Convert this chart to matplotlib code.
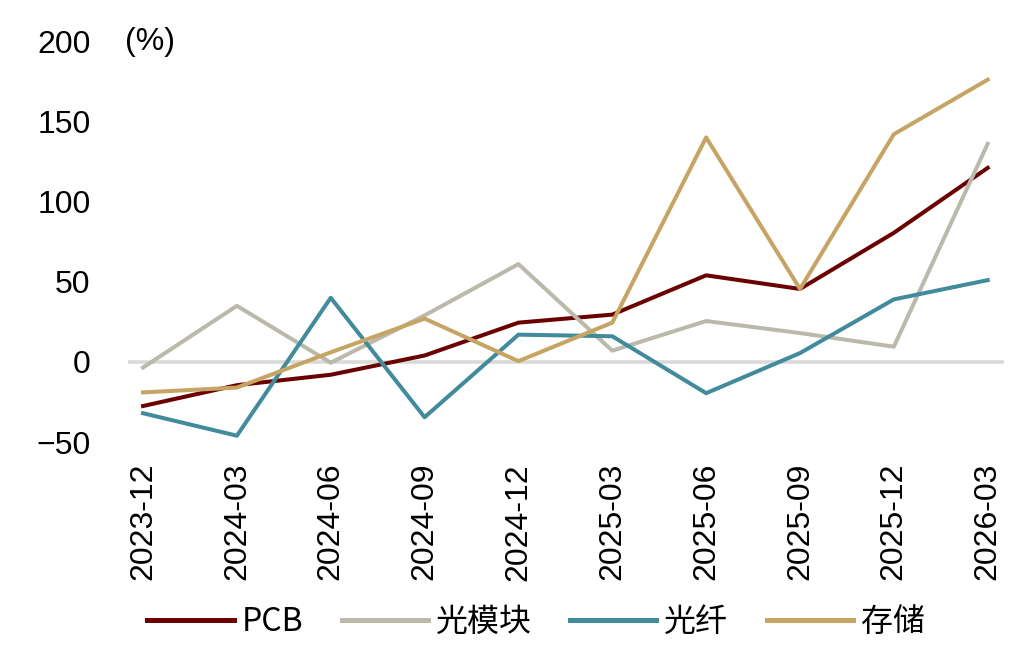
import numpy as np
import matplotlib
matplotlib.use('Agg')
import matplotlib.pyplot as plt

plt.rcParams['font.family'] = ['Liberation Sans', 'Noto Sans CJK SC', 'DejaVu Sans']

# quarters on the x axis
quarters = ['2023-12', '2024-03', '2024-06', '2024-09', '2024-12',
            '2025-03', '2025-06', '2025-09', '2025-12', '2026-03']

# values (%)
pcb = [-27.5, -14.5, -8, 4, 24.5, 29.5, 54, 45.5, 80.5, 121]
optical_module = [-3.5, 35, -0.5, 29, 61, 7, 25.5, 18, 9.5, 136]
optical_fiber = [-32, -46, 40, -34.5, 17, 16, -19.5, 5.5, 39, 51]
storage = [-19, -16, 6, 27, 0.5, 24.5, 140, 45.5, 142, 176]

series_names = ['PCB', '光模块', '光纤', '存储']
colors = ['#6B0000', '#BBB9AA', '#418B9C', '#C6A464']

fig = plt.figure(figsize=(10.35, 6.54), dpi=100)
ax = fig.add_axes([0.1237, 0.324, 0.846, 0.613])

x = np.arange(len(quarters))
ax.axhline(0, color='#D9D9D9', lw=2.6, zorder=1)
for vals, name, c in zip([pcb, optical_module, optical_fiber, storage], series_names, colors):
    ax.plot(x, vals, color=c, lw=2.9, label=name, zorder=2)

ax.set_xlim(-0.16, 9.17)
ax.set_ylim(-50, 200)
ax.set_yticks([-50, 0, 50, 100, 150, 200])
ax.set_xticks(x)
ax.set_xticklabels(quarters, rotation=90, va='top', ha='center')
ax.tick_params(axis='both', length=0, labelsize=23)
ax.tick_params(axis='y', pad=27)
ax.tick_params(axis='x', pad=15)
for s in ax.spines.values():
    s.set_visible(False)

fig.text(0.1445, 0.936, '(%)', fontsize=23, ha='center', va='center')

leg = fig.legend(loc='center', bbox_to_anchor=(0.518, 0.049), ncol=4, frameon=False,
                 handlelength=2.7, handletextpad=0.25, columnspacing=1.2,
                 prop={'family': ['Liberation Sans Narrow', 'Noto Sans CJK SC', 'DejaVu Sans'],
                       'size': 23})
for line in leg.get_lines():
    line.set_linewidth(3.6)

fig.savefig('out.png', dpi=100)
